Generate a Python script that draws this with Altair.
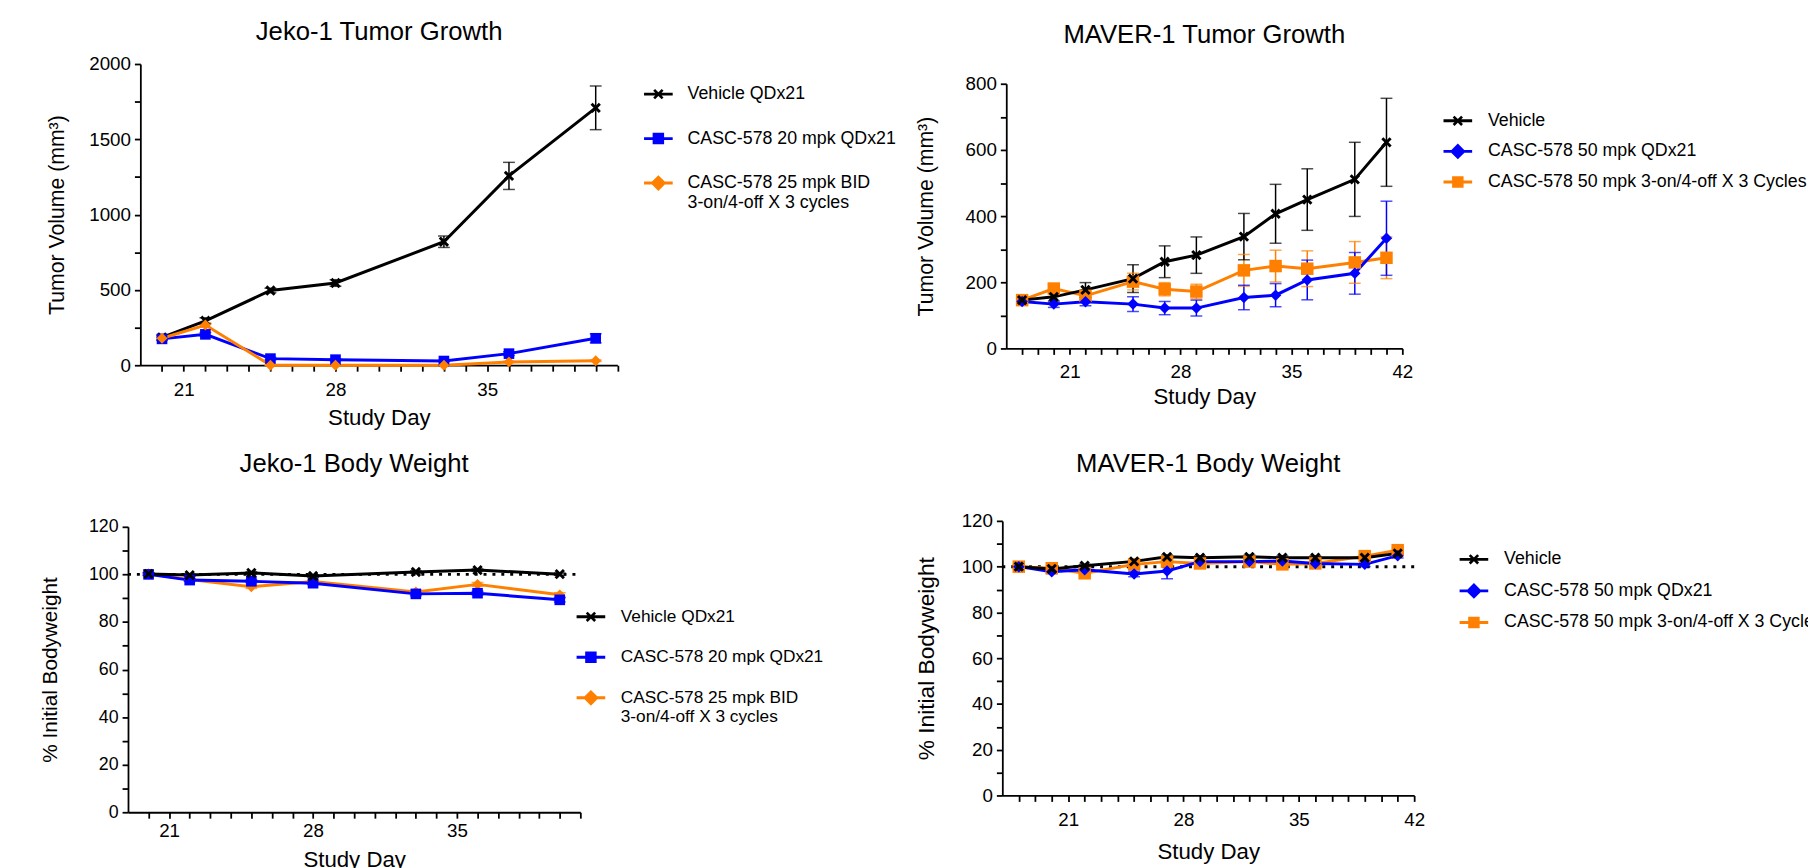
import altair as alt
import pandas as pd

FONT = "Liberation Sans"
BLACK, BLUE, ORANGE = "#000000", "#0000FF", "#FF8000"

# ---------------- Jeko-1 data ----------------
jeko_days = [20, 22, 25, 28, 33, 36, 40]
jeko_series = ["Vehicle QDx21", "CASC-578 20 mpk QDx21",
               "CASC-578 25 mpk BID\n3-on/4-off X 3 cycles"]

jeko_tv_vehicle = [185, 295, 496, 546, 820, 1257, 1709]
jeko_tv_vehicle_sem = [15, 20, 15, 22, 38, 90, 145]
jeko_tv_20mpk = [175, 205, 44, 37, 28, 77, 179]
jeko_tv_20mpk_sem = [10, 12, 8, 6, 5, 12, 30]
jeko_tv_25mpk = [179, 267, 0, 0, 0, 22, 30]
jeko_tv_25mpk_sem = [10, 15, 0, 0, 0, 4, 5]

jeko_bw_vehicle = [100.2, 99.7, 100.6, 99.3, 101.0, 101.8, 100.1]
jeko_bw_vehicle_sem = [0.5, 0.5, 0.5, 0.5, 0.5, 0.5, 0.5]
jeko_bw_20mpk = [100.0, 97.6, 97.1, 96.3, 91.8, 92.1, 89.3]
jeko_bw_20mpk_sem = [0.5, 0.6, 0.6, 0.6, 0.8, 0.8, 0.9]
jeko_bw_25mpk = [100.3, 97.8, 94.8, 97.0, 92.6, 95.8, 91.4]
jeko_bw_25mpk_sem = [0.5, 0.6, 0.7, 0.6, 0.8, 0.8, 0.9]

# ---------------- MAVER-1 data ----------------
maver_days = [18, 20, 22, 25, 27, 29, 32, 34, 36, 39, 41]
maver_series = ["Vehicle", "CASC-578 50 mpk QDx21",
                "CASC-578 50 mpk 3-on/4-off X 3 Cycles"]

maver_tv_vehicle = [146, 156, 177, 211, 262, 282, 338, 407, 450, 511, 623]
maver_tv_vehicle_sem = [10, 16, 22, 42, 48, 55, 70, 89, 93, 112, 133]
maver_tv_qd = [142, 134, 141, 134, 122, 122, 154, 161, 207, 227, 333]
maver_tv_qd_sem = [10, 10, 12, 22, 20, 24, 37, 35, 60, 63, 112]
maver_tv_cyc = [146, 181, 159, 202, 179, 172, 236, 249, 241, 260, 274]
maver_tv_cyc_sem = [10, 12, 12, 25, 20, 22, 48, 48, 54, 63, 63]

maver_bw_vehicle = [100.0, 99.0, 100.4, 102.3, 104.3, 103.9, 104.3, 103.9, 103.9, 103.9, 105.8]
maver_bw_vehicle_sem = [0.6, 0.6, 0.6, 0.7, 0.8, 0.8, 0.8, 0.8, 0.8, 0.8, 0.9]
maver_bw_qd = [100.0, 97.8, 98.6, 96.8, 98.1, 102.2, 102.2, 102.5, 101.4, 101.0, 104.8]
maver_bw_qd_sem = [0.8, 0.8, 0.9, 1.2, 3.4, 1.0, 1.0, 1.0, 1.0, 1.0, 1.0]
maver_bw_cyc = [100.0, 99.3, 97.1, 101.0, 102.2, 101.4, 102.2, 101.0, 101.4, 104.6, 107.2]
maver_bw_cyc_sem = [0.8, 0.8, 0.9, 0.9, 0.9, 0.9, 0.9, 0.9, 0.9, 0.9, 1.0]

# ---------------- axes ----------------
jeko_day_ticks = list(range(20, 42))
maver_day_ticks = list(range(18, 43))
jeko_tv_ticks = [0, 250, 500, 750, 1000, 1250, 1500, 1750, 2000]
maver_tv_ticks = [0, 100, 200, 300, 400, 500, 600, 700, 800]
bw_ticks = [0, 10, 20, 30, 40, 50, 60, 70, 80, 90, 100, 110, 120]
bw_baseline = 100


def long_df(days, series, values, sems, order):
    rows = []
    for i in order:
        for d, v, e in zip(days, values[i], sems[i]):
            rows.append({"day": d, "value": v, "lo": v - e, "hi": v + e,
                         "series": series[i]})
    return pd.DataFrame(rows)


def f(v):
    return f"{v:.3f}"


def x_path(a, d, dy=0.0):
    b1 = f"M{f(-a)},{f(-a + d + dy)}L{f(-a + d)},{f(-a + dy)}L{f(a)},{f(a - d + dy)}L{f(a - d)},{f(a + dy)}Z"
    b2 = f"M{f(a - d)},{f(-a + dy)}L{f(a)},{f(-a + d + dy)}L{f(-a + d)},{f(a + dy)}L{f(-a)},{f(a - d + dy)}Z"
    return b1 + b2


def line_path(dy=0.0):
    return f"M-1,{f(-0.1 + dy)}H1V{f(0.1 + dy)}H-1Z"


def sq_path(h, dy=0.0):
    return f"M{f(-h)},{f(-h + dy)}H{f(h)}V{f(h + dy)}H{f(-h)}Z"


def di_path(h, dy=0.0):
    return f"M0,{f(-h + dy)}L{f(h)},{f(dy)}L0,{f(h + dy)}L{f(-h)},{f(dy)}Z"


X_MARK = x_path(1.0, 0.4)
LEG_X = line_path() + x_path(0.36, 0.13)
LEG_SQ = line_path() + sq_path(0.40)
LEG_DI = line_path() + di_path(0.55)


def panel(df, series, colors, pt_shapes, pt_sizes, leg_shapes, *, title,
          title_offset, ytitle, ytitle_pad, ytitle_size, ylabel_size, ydom,
          yticks, ymajor, xdom, xticks, xlabel_pad, xtitle_pad, xtitle_size,
          width, height, leg_x, leg_y, leg_font, leg_offset, leg_rowpad,
          xoff=0, yoff=0, title_dx=0, ref=None):
    xscale = alt.Scale(domain=xdom, nice=False, zero=False,
                       range=[xoff, xoff + width])
    yscale = alt.Scale(domain=ydom, nice=False, zero=False,
                       range=[yoff + height, yoff])
    xaxis = alt.Axis(values=xticks,
                     labelExpr="datum.value % 7 == 0 ? datum.label : ''",
                     title="Study Day", labelPadding=xlabel_pad,
                     titlePadding=xtitle_pad, titleFontSize=xtitle_size,
                     labelOverlap=False, labelFlush=False)
    yaxis = alt.Axis(values=yticks,
                     labelExpr=f"datum.value % {ymajor} == 0 ? datum.label : ''",
                     format="d", title=ytitle, titlePadding=ytitle_pad,
                     titleFontSize=ytitle_size, labelFontSize=ylabel_size,
                     labelOverlap=False, labelFlush=False, offset=-xoff)
    cscale = alt.Scale(domain=series, range=colors)
    Xa = alt.X("day:Q", scale=xscale, axis=xaxis)
    Ya = alt.Y("value:Q", scale=yscale, axis=yaxis)
    C = alt.Color("series:N", scale=cscale, legend=None)
    base = alt.Chart(df)

    layers = []
    if ref is not None:
        ref_df = pd.DataFrame({"day": [xdom[0]], "day_end": [xdom[1]], "value": [ref]})
        layers.append(
            alt.Chart(ref_df).mark_rule(color="black", strokeWidth=3,
                                        strokeDash=[3, 6]).encode(
                x=Xa, x2="day_end:Q", y=Ya))

    ylo = alt.Y("lo:Q", scale=yscale, axis=yaxis)
    yhi = alt.Y("hi:Q", scale=yscale, axis=yaxis)
    layers.append(base.mark_rule(strokeWidth=1.5).encode(x=Xa, y=ylo, y2="hi:Q", color=C))
    layers.append(base.mark_tick(orient="horizontal", size=12, thickness=1.5).encode(x=Xa, y=ylo, color=C))
    layers.append(base.mark_tick(orient="horizontal", size=12, thickness=1.5).encode(x=Xa, y=yhi, color=C))
    layers.append(base.mark_line(strokeWidth=3).encode(x=Xa, y=Ya, color=C, order="day:Q"))
    layers.append(base.mark_point(filled=True, opacity=1, strokeWidth=0).encode(
        x=Xa, y=Ya, color=C,
        shape=alt.Shape("series:N", scale=alt.Scale(domain=series, range=pt_shapes), legend=None),
        size=alt.Size("series:N", scale=alt.Scale(domain=series, range=pt_sizes), legend=None)))

    leg = alt.Legend(orient="none", legendX=leg_x, legendY=leg_y,
                     direction="vertical", title=None, symbolSize=841,
                     symbolOpacity=1, symbolStrokeWidth=0, labelFont=FONT,
                     labelFontSize=leg_font, labelColor="black",
                     labelOffset=leg_offset, rowPadding=leg_rowpad,
                     padding=0, labelLimit=800, labelBaseline="middle",
                     labelExpr="split(datum.label, '\\n')")
    layers.append(base.mark_point(filled=True, opacity=0).encode(
        x=Xa, y=Ya,
        color=alt.Color("series:N", scale=cscale, legend=leg),
        shape=alt.Shape("series:N", scale=alt.Scale(domain=series, range=leg_shapes), legend=leg)))

    tparams = alt.TitleParams(text=title, offset=title_offset, frame="group",
                              dx=title_dx)
    return alt.layer(*layers).resolve_scale(
        color="independent", shape="independent", size="independent"
    ).properties(width=width + xoff, height=height + yoff, title=tparams)


jeko_tv_df = long_df(jeko_days, jeko_series,
                     [jeko_tv_vehicle, jeko_tv_20mpk, jeko_tv_25mpk],
                     [jeko_tv_vehicle_sem, jeko_tv_20mpk_sem, jeko_tv_25mpk_sem],
                     [0, 1, 2])
jeko_bw_df = long_df(jeko_days, jeko_series,
                     [jeko_bw_vehicle, jeko_bw_20mpk, jeko_bw_25mpk],
                     [jeko_bw_vehicle_sem, jeko_bw_20mpk_sem, jeko_bw_25mpk_sem],
                     [2, 1, 0])
maver_tv_df = long_df(maver_days, maver_series,
                      [maver_tv_vehicle, maver_tv_qd, maver_tv_cyc],
                      [maver_tv_vehicle_sem, maver_tv_qd_sem, maver_tv_cyc_sem],
                      [2, 1, 0])
maver_bw_df = long_df(maver_days, maver_series,
                      [maver_bw_vehicle, maver_bw_qd, maver_bw_cyc],
                      [maver_bw_vehicle_sem, maver_bw_qd_sem, maver_bw_cyc_sem],
                      [2, 1, 0])

colors = [BLACK, BLUE, ORANGE]
jeko_pts = [X_MARK, "square", "diamond"]
jeko_sizes = [110, 121, 200]
jeko_leg = [LEG_X, LEG_SQ, LEG_DI]
maver_pts = [X_MARK, "diamond", "square"]
maver_sizes = [110, 160, 110]
maver_leg = [LEG_X, LEG_DI, LEG_SQ]

p1 = panel(jeko_tv_df, jeko_series, colors, jeko_pts, jeko_sizes, jeko_leg,
           title="Jeko-1 Tumor  Growth", title_offset=10.5, title_dx=6.5,
           ytitle="Tumor Volume (mm³)", ytitle_pad=21, ytitle_size=21.5,
           ylabel_size=19, ydom=[0, 2000], yticks=jeko_tv_ticks, ymajor=500,
           xdom=[19, 41], xticks=jeko_day_ticks, xlabel_pad=10, xtitle_pad=7,
           xtitle_size=22.5, width=483, height=305, xoff=12.5,
           leg_x=522.5, leg_y=16, leg_font=18, leg_offset=15, leg_rowpad=21)

p2 = panel(maver_tv_df, maver_series, colors, maver_pts, maver_sizes, maver_leg,
           title="MAVER-1 Tumor Growth", title_offset=15.8,
           ytitle="Tumor Volume (mm³)", ytitle_pad=27.5, ytitle_size=21.5,
           ylabel_size=19, ydom=[0, 800], yticks=maver_tv_ticks, ymajor=200,
           xdom=[17, 42], xticks=maver_day_ticks, xlabel_pad=8, xtitle_pad=5,
           xtitle_size=22.5, width=401, height=268, yoff=20,
           leg_x=442.7, leg_y=43, leg_font=18, leg_offset=16, leg_rowpad=7)

p3 = panel(jeko_bw_df, jeko_series, colors, jeko_pts, jeko_sizes, jeko_leg,
           title="Jeko-1 Body Weight", title_offset=41.2,
           ytitle="% Initial Bodyweight", ytitle_pad=28, ytitle_size=21,
           ylabel_size=18, ydom=[0, 120], yticks=bw_ticks, ymajor=20,
           xdom=[19, 41], xticks=jeko_day_ticks, xlabel_pad=4, xtitle_pad=8,
           xtitle_size=22.5, width=458, height=289, yoff=5,
           leg_x=454.2, leg_y=81.6, leg_font=17.5, leg_offset=15.7,
           leg_rowpad=18, ref=bw_baseline)

p4 = panel(maver_bw_df, maver_series, colors, maver_pts, maver_sizes, maver_leg,
           title="MAVER-1 Body  Weight", title_offset=35.5,
           ytitle="% Initial Bodyweight", ytitle_pad=22.75, ytitle_size=23,
           ylabel_size=19, ydom=[0, 120], yticks=bw_ticks, ymajor=20,
           xdom=[17, 42], xticks=maver_day_ticks, xlabel_pad=9, xtitle_pad=11.5,
           xtitle_size=22.5, width=417, height=278,
           leg_x=463, leg_y=24.4, leg_font=18, leg_offset=16, leg_rowpad=8,
           ref=bw_baseline)

chart = alt.concat(p1, p2, p3, p4, columns=2).properties(
    align="none",
    spacing={"row": 21.6, "column": 18.25},
    padding={"left": 31.5, "top": 5.3, "right": -16, "bottom": -5}
).configure_axis(
    domainColor="#000000", domainWidth=1.8, tickColor="#000000", tickWidth=1.8,
    tickSize=6, labelColor="#000000", titleColor="#000000", labelFont=FONT,
    titleFont=FONT, labelFontSize=19, titleFontSize=21,
    titleFontWeight="normal", grid=False, labelPadding=4
).configure_title(
    font=FONT, fontSize=26, fontWeight="normal", color="#000000",
    anchor="middle"
).configure_view(stroke=None)

chart.save("out.html", embed_options={"renderer": "svg", "actions": False})
